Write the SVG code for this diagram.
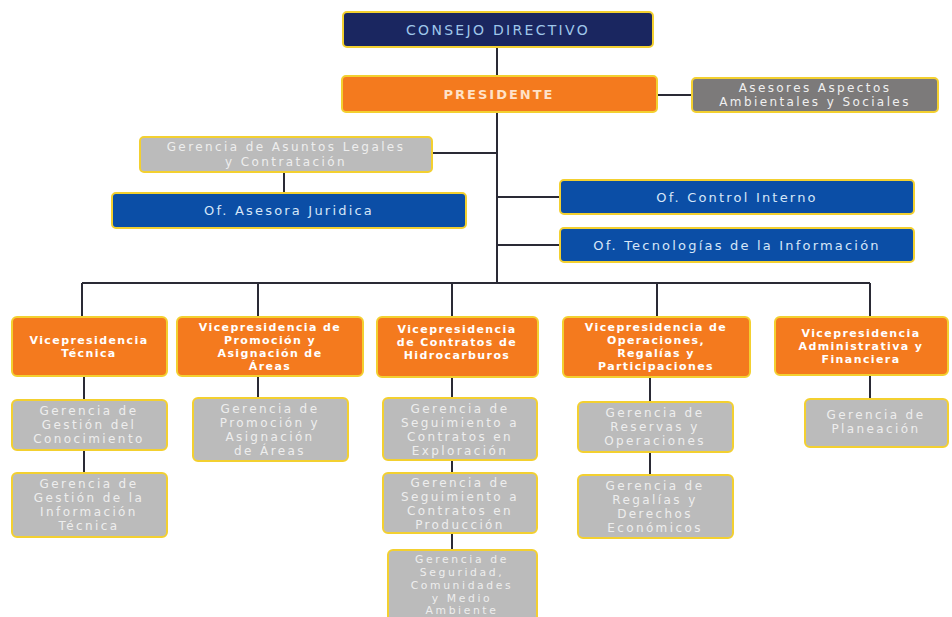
<svg xmlns="http://www.w3.org/2000/svg" width="952" height="617" viewBox="0 0 952 617">
<style>
.box{stroke:#f3d030;stroke-width:2}
.navy{fill:#1a2660}
.org{fill:#f47a1e}
.dg{fill:#7c7a7a}
.lg{fill:#bbbbbb}
.blue{fill:#0b4ea6}
text{font-family:"DejaVu Sans","Liberation Sans",sans-serif;text-anchor:middle}
.tn{fill:#9fc6ea;font-size:14px;letter-spacing:2.3px}
.tp{fill:#ffe2c8;font-size:13px;font-weight:bold;letter-spacing:2px}
.tv{fill:#ffffff;font-size:11px;font-weight:bold;letter-spacing:1.4px}
.tg{fill:#eeeeee;font-size:12px;letter-spacing:2.4px}
.ts{fill:#eeeeee;font-size:10.8px;letter-spacing:2.6px}
.tb{fill:#d6e6f8;font-size:13px;letter-spacing:2.2px}
.td{fill:#f0f0f0;font-size:12px;letter-spacing:2.4px}
.conn line{stroke:#2a2a35;stroke-width:2}
</style>
<rect width="952" height="617" fill="#ffffff"/>
<g class="conn">
<line x1="497" y1="47" x2="497" y2="76"/>
<line x1="497" y1="112" x2="497" y2="283"/>
<line x1="657" y1="95" x2="692" y2="95"/>
<line x1="432" y1="153" x2="497" y2="153"/>
<line x1="284" y1="172" x2="284" y2="193"/>
<line x1="497" y1="197" x2="560" y2="197"/>
<line x1="497" y1="245" x2="560" y2="245"/>
<line x1="82" y1="283" x2="870" y2="283"/>
<line x1="82" y1="283" x2="82" y2="316"/>
<line x1="258" y1="283" x2="258" y2="316"/>
<line x1="452" y1="283" x2="452" y2="316"/>
<line x1="657" y1="283" x2="657" y2="316"/>
<line x1="870" y1="283" x2="870" y2="316"/>
<line x1="84" y1="376" x2="84" y2="473"/>
<line x1="258" y1="376" x2="258" y2="398"/>
<line x1="452" y1="377" x2="452" y2="550"/>
<line x1="650" y1="377" x2="650" y2="475"/>
<line x1="870" y1="375" x2="870" y2="399"/>
</g>
<g id="consejo"><rect class="box navy" x="343" y="12" width="310" height="35" rx="4"/><text class="tn" x="498" y="35">CONSEJO DIRECTIVO</text></g>
<g id="presidente"><rect class="box org" x="342" y="76" width="315" height="36" rx="4"/><text class="tp" x="499" y="99">PRESIDENTE</text></g>
<g id="asesores"><rect class="box dg" x="692" y="78" width="246" height="34" rx="4"/><text class="td" x="815" y="92">Asesores Aspectos</text><text class="td" x="815" y="106">Ambientales y Sociales</text></g>
<g id="legales"><rect class="box lg" x="140" y="137" width="292" height="35" rx="4"/><text class="tg" x="286" y="151">Gerencia de Asuntos Legales</text><text class="tg" x="286" y="166">y Contratación</text></g>
<g id="juridica"><rect class="box blue" x="112" y="193" width="354" height="35" rx="4"/><text class="tb" x="289" y="215">Of. Asesora Juridica</text></g>
<g id="control"><rect class="box blue" x="560" y="180" width="354" height="34" rx="4"/><text class="tb" x="737" y="202">Of. Control Interno</text></g>
<g id="tecnologias"><rect class="box blue" x="560" y="228" width="354" height="34" rx="4"/><text class="tb" x="737" y="250">Of. Tecnologías de la Información</text></g>
<g id="vp-tecnica"><rect class="box org" x="12" y="317" width="155" height="59" rx="5"/><text class="tv" x="89" y="344">Vicepresidencia</text><text class="tv" x="89" y="357">Técnica</text></g>
<g id="vp-promocion"><rect class="box org" x="177" y="317" width="186" height="59" rx="5"/><text class="tv" x="270" y="331">Vicepresidencia de</text><text class="tv" x="270" y="344">Promoción y</text><text class="tv" x="270" y="357">Asignación de</text><text class="tv" x="270" y="370">Áreas</text></g>
<g id="vp-contratos"><rect class="box org" x="377" y="317" width="161" height="60" rx="5"/><text class="tv" x="457" y="333">Vicepresidencia</text><text class="tv" x="457" y="346">de Contratos de</text><text class="tv" x="457" y="359">Hidrocarburos</text></g>
<g id="vp-operaciones"><rect class="box org" x="563" y="317" width="187" height="60" rx="5"/><text class="tv" x="656" y="331">Vicepresidencia de</text><text class="tv" x="656" y="344">Operaciones,</text><text class="tv" x="656" y="357">Regalías y</text><text class="tv" x="656" y="370">Participaciones</text></g>
<g id="vp-administrativa"><rect class="box org" x="775" y="317" width="173" height="58" rx="5"/><text class="tv" x="861" y="337">Vicepresidencia</text><text class="tv" x="861" y="350">Administrativa y</text><text class="tv" x="861" y="363">Financiera</text></g>
<g id="g-conocimiento"><rect class="box lg" x="12" y="400" width="155" height="50" rx="5"/><text class="tg" x="89" y="415">Gerencia de</text><text class="tg" x="89" y="429">Gestión del</text><text class="tg" x="89" y="443">Conocimiento</text></g>
<g id="g-informacion"><rect class="box lg" x="12" y="473" width="155" height="64" rx="5"/><text class="tg" x="89" y="488">Gerencia de</text><text class="tg" x="89" y="502">Gestión de la</text><text class="tg" x="89" y="516">Información</text><text class="tg" x="89" y="530">Técnica</text></g>
<g id="g-promocion"><rect class="box lg" x="193" y="398" width="155" height="63" rx="5"/><text class="tg" x="270" y="413">Gerencia de</text><text class="tg" x="270" y="427">Promoción y</text><text class="tg" x="270" y="441">Asignación</text><text class="tg" x="270" y="455">de Áreas</text></g>
<g id="g-exploracion"><rect class="box lg" x="383" y="398" width="154" height="62" rx="5"/><text class="tg" x="460" y="413">Gerencia de</text><text class="tg" x="460" y="427">Seguimiento a</text><text class="tg" x="460" y="441">Contratos en</text><text class="tg" x="460" y="455">Exploración</text></g>
<g id="g-produccion"><rect class="box lg" x="383" y="473" width="154" height="60" rx="5"/><text class="tg" x="460" y="487">Gerencia de</text><text class="tg" x="460" y="501">Seguimiento a</text><text class="tg" x="460" y="515">Contratos en</text><text class="tg" x="460" y="529">Producción</text></g>
<g id="g-seguridad"><rect class="box lg" x="388" y="550" width="149" height="80" rx="5"/><text class="ts" x="462" y="563">Gerencia de</text><text class="ts" x="462" y="576">Seguridad,</text><text class="ts" x="462" y="589">Comunidades</text><text class="ts" x="462" y="602">y Medio</text><text class="ts" x="462" y="614">Ambiente</text></g>
<g id="g-reservas"><rect class="box lg" x="578" y="402" width="155" height="50" rx="5"/><text class="tg" x="655" y="417">Gerencia de</text><text class="tg" x="655" y="431">Reservas y</text><text class="tg" x="655" y="445">Operaciones</text></g>
<g id="g-regalias"><rect class="box lg" x="578" y="475" width="155" height="63" rx="5"/><text class="tg" x="655" y="490">Gerencia de</text><text class="tg" x="655" y="504">Regalías y</text><text class="tg" x="655" y="518">Derechos</text><text class="tg" x="655" y="532">Económicos</text></g>
<g id="g-planeacion"><rect class="box lg" x="805" y="399" width="143" height="48" rx="5"/><text class="tg" x="876" y="419">Gerencia de</text><text class="tg" x="876" y="433">Planeación</text></g>
</svg>
